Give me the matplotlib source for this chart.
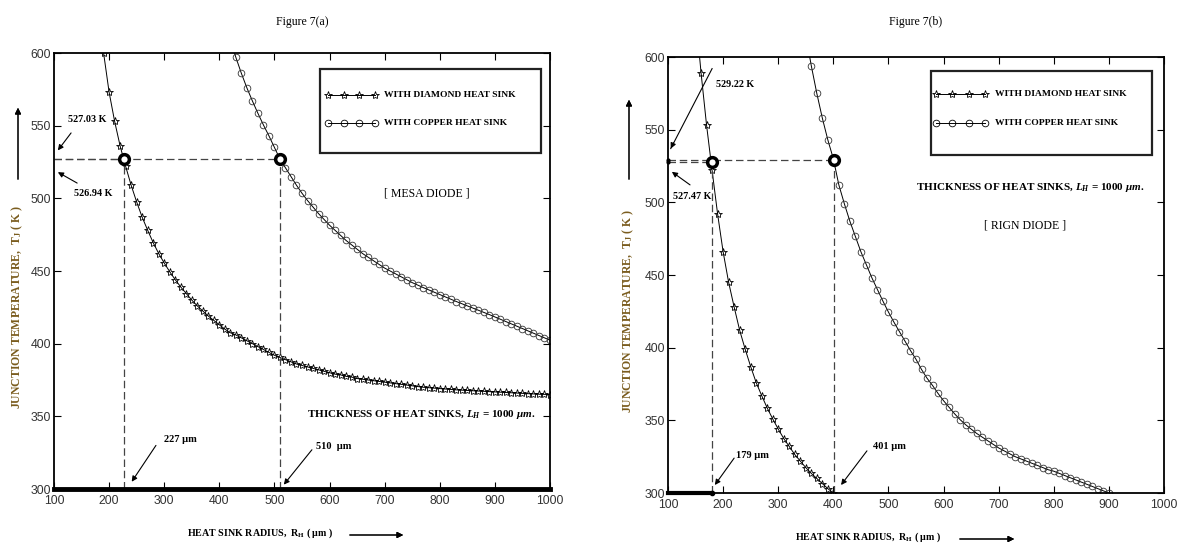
import matplotlib.pyplot as plt
import numpy as np
from matplotlib.patches import Rectangle
from matplotlib.lines import Line2D

W, H = 1179, 543

# ---------------- Figure 7(a) : MESA diode ----------------
mesa_r_diamond = np.arange(190, 1001, 10)
mesa_t_diamond = [600, 573, 553, 536, 522, 509, 497.5, 487, 478, 469.5,
                  462, 455.5, 449.5, 444, 439, 434.5, 430, 426, 422.5, 419,
                  416, 413, 410, 407.5, 406, 404, 402, 400, 398, 396,
                  394, 392, 390.5, 389, 387.5, 386, 385, 384, 383, 382,
                  381, 380, 379, 378.5, 377.5, 377, 376, 375.5, 375, 374.5,
                  374, 373.5, 373, 372.5, 372, 371.5, 371, 370.5, 370, 369.7,
                  369.4, 369.1, 368.8, 368.5, 368.2, 368, 367.8, 367.6, 367.4, 367.2,
                  367, 366.8, 366.6, 366.4, 366.2, 366, 365.8, 365.6, 365.4, 365.2,
                  365.1, 365]
mesa_r_copper = np.arange(420, 1001, 10)
mesa_t_copper = [609, 597, 586, 576, 567, 558.5, 550.5, 543, 535, 527,
                 521, 515, 509, 503.5, 498.5, 494, 489.5, 485.5, 481.5, 478,
                 474.5, 471, 468, 465, 462, 459.5, 457, 454.5, 452, 450,
                 448, 446, 444, 442, 440.3, 438.6, 437, 435.4, 433.8, 432.2,
                 430.6, 429, 427.5, 426, 424.5, 423, 421.5, 420, 418.4, 416.8,
                 415.2, 413.6, 412, 410.4, 408.8, 407.2, 405.6, 404, 402.4]
mesa_mark_r = [227, 510]            # diamond, copper
mesa_mark_t = [526.94, 527.03]

# ---------------- Figure 7(b) : RIGN diode ----------------
rign_r_diamond = np.arange(150, 401, 10)
rign_t_diamond = [630, 589, 553, 522, 492, 466, 445, 428, 412, 399,
                  387, 376, 367, 358.5, 351, 344, 337.5, 332, 326.5, 322,
                  317.5, 313.5, 310, 306.5, 303, 300]
rign_r_copper = np.arange(350, 901, 10)
rign_t_copper = [615, 594, 575, 558, 543, 530, 512, 499, 487, 476.5,
                 466, 457, 448, 440, 432, 424.5, 417.5, 411, 404.5, 398,
                 392, 385, 379, 374, 368.5, 363.5, 359, 354.5, 350.5, 347,
                 344, 341, 338.5, 336, 333.5, 331, 329, 327, 325, 323.5,
                 322, 320.5, 319, 317.5, 316, 315, 313.5, 312, 310.5, 309,
                 307.5, 306, 304.5, 303, 301.5, 300]
rign_mark_r = [179, 401]
rign_mark_t = [527.47, 529.22]

plt.rcParams['font.family'] = ['Liberation Serif', 'DejaVu Serif']
plt.rcParams['mathtext.fontset'] = 'custom'
plt.rcParams['mathtext.rm'] = 'Liberation Serif:bold'
plt.rcParams['mathtext.it'] = 'Liberation Serif:italic:bold'
plt.rcParams['mathtext.bf'] = 'Liberation Serif:bold'

fig = plt.figure(figsize=(W / 100, H / 100), dpi=100)


def fxy(x, y):
    # pixel position (from top-left) -> figure fraction
    return (x / W, 1 - y / H)


def setup_axes(ax):
    ax.set_xlim(100, 1000)
    ax.set_ylim(300, 600)
    ax.set_xticks(np.arange(100, 1001, 100))
    ax.set_yticks(np.arange(300, 601, 50))
    ax.tick_params(direction='in', top=True, right=True, length=5, width=0.8,
                   labelsize=8.8, pad=2, labelcolor='#333')
    ax.tick_params(axis='x', pad=4)
    for lab in ax.get_xticklabels() + ax.get_yticklabels():
        lab.set_family(['Liberation Sans Narrow', 'Liberation Sans'])
    for s in ax.spines.values():
        s.set_linewidth(1.3)


def draw_curves(ax, rd, td, rc, tc):
    ax.plot(rd, td, '-', color='k', lw=0.7, marker='*', ms=6,
            mfc='none', mec='k', mew=0.6)
    ax.plot(rc, tc, '-', color='k', lw=0.7, marker='o', ms=4.8,
            mfc='none', mec='#333', mew=0.6)


def draw_marks(ax, mr, mt):
    dash = (0, (6, 3))
    for r, t in zip(mr, mt):
        ax.plot([100, r], [t, t], color='#444', lw=0.9, linestyle=dash)
        ax.plot([r, r], [300, t], color='#444', lw=0.9, linestyle=dash)
    ax.plot(mr, mt, 'o', ms=7, mfc='white', mec='k', mew=2.5, zorder=5)


def draw_legend(x0, y0, x1, y1, lx0, lx1, tx, rows):
    fig.add_artist(Rectangle(fxy(x0, y1), (x1 - x0) / W, (y1 - y0) / H,
                             transform=fig.transFigure, fill=False,
                             ec='#222', lw=1.6))
    for (y, marker, ms, label) in rows:
        xs = np.linspace(lx0, lx1, 4)
        fig.add_artist(Line2D(xs / W, [1 - y / H] * 4, transform=fig.transFigure,
                              color='k', lw=0.7, marker=marker, ms=ms,
                              mfc='none', mec='k', mew=0.6))
        fig.text(*fxy(tx, y), label, fontsize=6.8, fontweight='bold',
                 va='center', ha='left')


def arrow(ax, text_xy, tip_xy):
    ax.annotate('', xy=tip_xy, xytext=text_xy,
                arrowprops=dict(arrowstyle='-|>', lw=0.8, color='k',
                                mutation_scale=8, shrinkA=0, shrinkB=0))


axL = fig.add_axes([54 / W, 1 - 489 / H, 496 / W, 436 / H])
axR = fig.add_axes([668 / W, 1 - 493 / H, 496 / W, 436 / H])

for ax in (axL, axR):
    setup_axes(ax)

# left panel
draw_curves(axL, mesa_r_diamond, mesa_t_diamond, mesa_r_copper, mesa_t_copper)
draw_marks(axL, mesa_mark_r, mesa_mark_t)
axL.plot([100, 1000], [300, 300], color='k', lw=3.5, clip_on=False)

axL.text(161, 554, '527.03 K', fontsize=7.3, fontweight='bold', ha='center', va='center')
arrow(axL, (131, 545), (107, 533))
axL.text(171, 503, '526.94 K', fontsize=7.3, fontweight='bold', ha='center', va='center')
arrow(axL, (142, 510.5), (107, 518))
axL.text(330, 334, '227 µm', fontsize=7.5, fontweight='bold', ha='center', va='center')
arrow(axL, (285, 330), (241, 305))
axL.text(608, 329, '510  µm', fontsize=7.5, fontweight='bold', ha='center', va='center')
arrow(axL, (568, 327), (517, 303))
axL.text(777, 503, '[ MESA DIODE ]', fontsize=8.5, ha='center', va='center')
axL.text(766, 351, 'THICKNESS OF HEAT SINKS, $L_H$ = 1000 $\\mu m$.', fontsize=8,
         fontweight='bold', ha='center', va='center')

# right panel
draw_curves(axR, rign_r_diamond, rign_t_diamond, rign_r_copper, rign_t_copper)
draw_marks(axR, rign_mark_r, rign_mark_t)
axR.plot([100, rign_mark_r[0]], [300, 300], color='k', lw=3, clip_on=False)
axR.plot([rign_mark_r[0]], [300], 'o', color='k', ms=3, clip_on=False)
axR.plot([100, 100], rign_mark_t, '.', color='k', ms=4, clip_on=False)

axR.text(187, 581, '529.22 K', fontsize=7.3, fontweight='bold', ha='left', va='center')
axR.plot([180, 105], [592, 537], color='k', lw=0.8)
arrow(axR, (110, 541), (105, 537))
axR.text(143, 504, '527.47 K', fontsize=7.3, fontweight='bold', ha='center', va='center')
arrow(axR, (140, 512), (107, 521))
axR.text(254, 326, '179 µm', fontsize=7.5, fontweight='bold', ha='center', va='center')
arrow(axR, (220, 324), (185, 305.5))
axR.text(501, 332, '401 µm', fontsize=7.5, fontweight='bold', ha='center', va='center')
arrow(axR, (461, 329), (414, 305.5))
axR.text(757, 510, 'THICKNESS OF HEAT SINKS, $L_H$ = 1000 $\\mu m$.', fontsize=8,
         fontweight='bold', ha='center', va='center')
axR.text(748, 484, '[ RIGN DIODE ]', fontsize=8.5, ha='center', va='center')

# legends
draw_legend(320, 69, 541, 153, 328, 375, 384,
            [(95, '*', 6, 'WITH DIAMOND HEAT SINK'),
             (123, 'o', 4.8, 'WITH COPPER HEAT SINK')])
draw_legend(931, 71, 1152, 155, 936, 985, 995,
            [(94, '*', 6, 'WITH DIAMOND HEAT SINK'),
             (123, 'o', 4.8, 'WITH COPPER HEAT SINK')])

# titles and axis labels
for cx, title in [(302, 'Figure 7(a)'), (916, 'Figure 7(b)')]:
    fig.text(*fxy(cx, 22), title, fontsize=8.5, ha='center', va='center')

ylab = 'JUNCTION TEMPERATURE,  T$_\\mathrm{J}$ ( K )'
ylab_color = '#7a5c1e'
for (x, y, ytop) in [(17, 307, 105), (628, 311, 97)]:
    fig.text(*fxy(x, y), ylab, fontsize=8.5, fontweight='bold', rotation=90,
             ha='center', va='center', color=ylab_color)
    fig.add_artist(plt.annotate('', xy=fxy(x + 1, ytop), xytext=fxy(x + 1, 182),
                                xycoords='figure fraction',
                                arrowprops=dict(arrowstyle='-|>', lw=0.8, color='k',
                                                mutation_scale=9)))

xlab = 'HEAT SINK RADIUS,  R$_\\mathrm{H}$ ( µm )'
for (cx, y, a0, a1) in [(260, 533, 347, 406), (868, 537, 957, 1017)]:
    fig.text(*fxy(cx, y), xlab, fontsize=7.2, fontweight='bold', ha='center', va='center')
    fig.add_artist(plt.annotate('', xy=fxy(a1, y + 2), xytext=fxy(a0, y + 2),
                                xycoords='figure fraction',
                                arrowprops=dict(arrowstyle='-|>', lw=0.8, color='k',
                                                mutation_scale=9)))

plt.savefig('out.png', dpi=100)
